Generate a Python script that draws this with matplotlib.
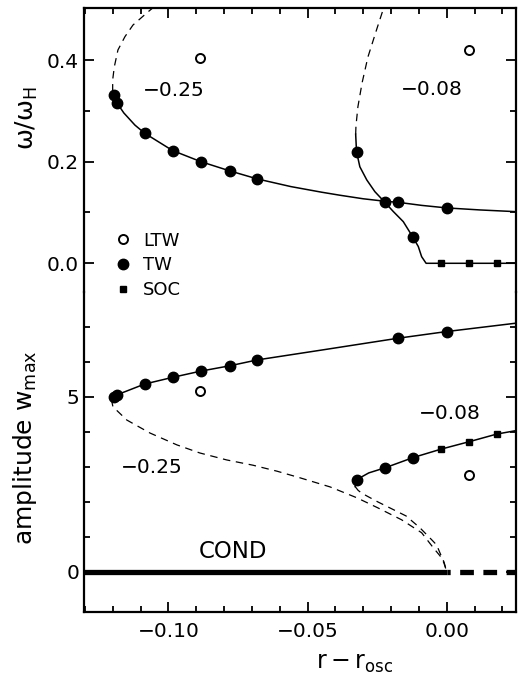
import matplotlib
matplotlib.use("Agg")
import matplotlib.pyplot as plt
from matplotlib.ticker import MultipleLocator, FixedLocator

plt.rcParams['font.family'] = ['DejaVu Sans']
plt.rcParams['mathtext.default'] = 'regular'

# ---------------- data ----------------
# measured points
r_tw_025 = [-0.1195, -0.1185, -0.1085, -0.0985, -0.0883, -0.078, -0.068, -0.0174, 0.0]
omega_tw_025 = [0.331, 0.316, 0.256, 0.222, 0.200, 0.182, 0.166, 0.120, 0.109]
amp_tw_025 = [4.98, 5.05, 5.36, 5.55, 5.73, 5.88, 6.05, 6.67, 6.86]

r_tw_008 = [-0.0324, -0.022, -0.0122]
omega_tw_008 = [0.220, 0.120, 0.052]
amp_tw_008 = [2.62, 2.97, 3.26]

r_soc_008 = [-0.002, 0.008, 0.018]
omega_soc_008 = [0.0, 0.0, 0.0]
amp_soc_008 = [3.50, 3.71, 3.93]

r_ltw = [-0.0887, 0.008]
omega_ltw = [0.405, 0.420]
amp_ltw = [5.17, 2.76]

# theory curves, frequency panel
r_om_025_stable = [-0.1200, -0.1195, -0.1185, -0.116, -0.112, -0.1085, -0.0985, -0.0883,
                   -0.078, -0.068, -0.056, -0.045, -0.0384, -0.030, -0.022, -0.0174,
                   -0.009, 0.0, 0.012, 0.025]
om_025_stable = [0.338, 0.331, 0.316, 0.296, 0.272, 0.256, 0.222, 0.200,
                 0.182, 0.166, 0.151, 0.140, 0.134, 0.127, 0.122, 0.120,
                 0.114, 0.109, 0.105, 0.1016]
r_om_025_unstable = [-0.1200, -0.1200, -0.1194, -0.1181, -0.1156, -0.1127, -0.1077, -0.1040]
om_025_unstable = [0.338, 0.361, 0.387, 0.420, 0.446, 0.469, 0.493, 0.510]

r_om_008_stable = [-0.0327, -0.0324, -0.0312, -0.0287, -0.0258, -0.0222, -0.0192, -0.0156,
                   -0.0122, -0.0102, -0.0090, -0.0074, 0.025]
om_008_stable = [0.254, 0.220, 0.190, 0.164, 0.141, 0.120, 0.102, 0.082,
                 0.052, 0.033, 0.013, 0.0, 0.0]
r_om_008_unstable = [-0.0327, -0.0326, -0.0319, -0.0304, -0.0283, -0.025, -0.0225]
om_008_unstable = [0.254, 0.270, 0.308, 0.355, 0.406, 0.463, 0.505]

# theory curves, amplitude panel
r_amp_025_stable = [-0.1205, -0.1195, -0.1185, -0.1085, -0.0985, -0.0883, -0.078, -0.068,
                    -0.045, -0.0174, 0.0, 0.025]
amp_025_stable = [4.93, 4.98, 5.05, 5.36, 5.55, 5.73, 5.88, 6.05,
                  6.33, 6.67, 6.86, 7.10]
r_amp_025_unstable = [-0.1205, -0.1199, -0.1149, -0.1066, -0.0969, -0.0887, -0.0790, -0.0696,
                      -0.0610, -0.0527, -0.0419, -0.0323, -0.0247, -0.0162, -0.0090, -0.0048,
                      -0.0024, -0.001, 0.0]
amp_025_unstable = [4.93, 4.71, 4.33, 3.96, 3.62, 3.39, 3.19, 3.04,
                    2.87, 2.68, 2.42, 2.11, 1.82, 1.48, 1.11, 0.68,
                    0.45, 0.25, 0.0]

r_amp_008_stable = [-0.0329, -0.0325, -0.028, -0.022, -0.012, -0.002, 0.008, 0.018, 0.025]
amp_008_stable = [2.43, 2.62, 2.82, 2.97, 3.26, 3.50, 3.71, 3.93, 4.03]
r_amp_008_unstable = [-0.0329, -0.0318, -0.0305, -0.0282, -0.0247, -0.0204, -0.0146, -0.0096,
                      -0.0054, -0.0036, -0.0024, -0.001, 0.0]
amp_008_unstable = [2.43, 2.32, 2.24, 2.14, 1.99, 1.82, 1.59, 1.25,
                    0.91, 0.76, 0.53, 0.28, 0.0]

# conduction state
r_cond_stable = [-0.131, 0.0]
r_cond_unstable = [0.0, 0.025]
amp_cond = [0.0, 0.0]

# ---------------- figure ----------------
fig = plt.figure(figsize=(5.18, 6.86), dpi=100)
L, R = 84 / 518, 516 / 518
T, M, B = 1 - 8 / 686, 1 - 292 / 686, 1 - 612 / 686
ax1 = fig.add_axes([L, M, R - L, T - M])
ax2 = fig.add_axes([L, B, R - L, M - B], sharex=ax1)
ax2.patch.set_visible(False)

xlim = (-0.1303, 0.0249)
ax1.set_xlim(*xlim)
ax1.set_ylim(-0.0565, 0.5025)
ax2.set_ylim(-1.155, 7.99)

lw_c = 1.1
dash = (6, 4.5)
ms_tw = 7.5

# frequency panel
ax1.plot(r_om_025_stable, om_025_stable, color='black', lw=lw_c)
ax1.plot(r_om_025_unstable, om_025_unstable, color='black', lw=0.9, dashes=dash)
ax1.plot(r_om_008_stable, om_008_stable, color='black', lw=lw_c)
ax1.plot(r_om_008_unstable, om_008_unstable, color='black', lw=0.9, dashes=dash)
h_ltw, = ax1.plot(r_ltw, omega_ltw, 'o', ms=6.5, mfc='white', mec='black', mew=1.4, ls='none')
h_tw, = ax1.plot(r_tw_025, omega_tw_025, 'o', ms=ms_tw, color='black', ls='none')
ax1.plot(r_tw_008, omega_tw_008, 'o', ms=ms_tw, color='black', ls='none')
h_soc, = ax1.plot(r_soc_008, omega_soc_008, 's', ms=4.5, color='black', ls='none')

# amplitude panel
ax2.plot(r_amp_025_stable, amp_025_stable, color='black', lw=lw_c)
ax2.plot(r_amp_025_unstable, amp_025_unstable, color='black', lw=0.9, dashes=dash)
ax2.plot(r_amp_008_stable, amp_008_stable, color='black', lw=lw_c)
ax2.plot(r_amp_008_unstable, amp_008_unstable, color='black', lw=0.9, dashes=dash)
ax2.plot(r_ltw, amp_ltw, 'o', ms=6.5, mfc='white', mec='black', mew=1.4, ls='none')
ax2.plot(r_tw_025, amp_tw_025, 'o', ms=ms_tw, color='black', ls='none')
ax2.plot(r_tw_008, amp_tw_008, 'o', ms=ms_tw, color='black', ls='none')
ax2.plot(r_soc_008, amp_soc_008, 's', ms=4.5, color='black', ls='none')
ax2.plot(r_cond_stable, amp_cond, color='black', lw=3.8, solid_capstyle='butt')
ax2.plot(r_cond_unstable, amp_cond, color='black', lw=3.8, ls=(2.0, (2.6, 1.8)),
         dash_capstyle='butt')

# annotations
fs_lab = 14.5
ax1.text(-0.0979, 0.341, '\u22120.25', fontsize=fs_lab, ha='center', va='center')
ax1.text(-0.0054, 0.343, '\u22120.08', fontsize=fs_lab, ha='center', va='center')
ax2.text(-0.1058, 2.98, '\u22120.25', fontsize=fs_lab, ha='center', va='center')
ax2.text(0.001, 4.51, '\u22120.08', fontsize=fs_lab, ha='center', va='center')
ax2.text(-0.0768, 0.58, 'COND', fontsize=16.5, ha='center', va='center')

leg = ax1.legend([h_ltw, h_tw, h_soc], ['LTW', 'TW', 'SOC'], loc='upper left',
                 bbox_to_anchor=(0.07, 0.213), frameon=False, fontsize=13,
                 handlelength=1.0, handletextpad=0.6, borderpad=0, borderaxespad=0,
                 labelspacing=0.38, numpoints=1)

# spines and ticks
for ax in (ax1, ax2):
    for s in ax.spines.values():
        s.set_linewidth(1.6)
    ax.tick_params(which='both', direction='in', top=True, right=True,
                   labelsize=14.5, width=1.3)
    ax.tick_params(which='major', length=7)
    ax.tick_params(which='minor', length=4.5)
ax1.spines['bottom'].set_visible(False)
ax2.spines['top'].set_visible(False)
ax1.tick_params(which='both', bottom=False, labelbottom=False)
ax2.tick_params(which='both', top=False)

ax1.yaxis.set_major_locator(FixedLocator([0.0, 0.2, 0.4]))
ax1.yaxis.set_minor_locator(FixedLocator([0.1, 0.3]))
ax1.set_yticklabels(['0.0', '0.2', '0.4'])
ax2.yaxis.set_major_locator(FixedLocator([0, 5]))
ax2.yaxis.set_minor_locator(FixedLocator([1, 2, 3, 4, 6, 7]))
ax2.xaxis.set_major_locator(FixedLocator([-0.10, -0.05, 0.0]))
ax2.xaxis.set_minor_locator(MultipleLocator(0.01))
ax2.set_xticklabels(['\u22120.10', '\u22120.05', '0.00'])
ax2.tick_params(axis='x', pad=7)
ax1.xaxis.set_minor_locator(MultipleLocator(0.01))
ax1.tick_params(axis='x', which='major', length=7)

fig.text(27 / 518, 1 - 118 / 686, r'$\mathregular{\omega/\omega_H}$', rotation=90,
         fontsize=18, ha='center', va='center')
fig.text(25 / 518, 1 - 448 / 686, r'amplitude $\mathregular{w_{max}}$', rotation=90,
         fontsize=18, ha='center', va='center')
fig.text(355 / 518, 1 - 663 / 686, r'$\mathregular{r-r_{osc}}$',
         fontsize=17, ha='center', va='center')

fig.savefig('out.png', dpi=100)
